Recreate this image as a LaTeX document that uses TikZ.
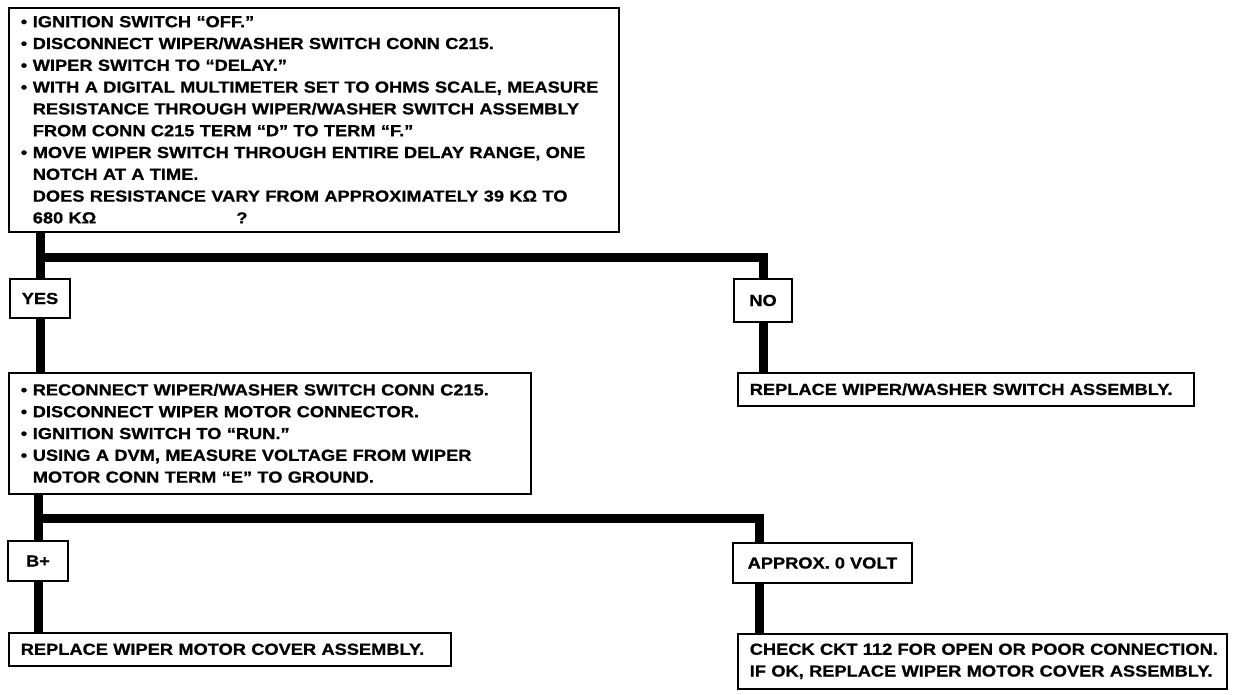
\documentclass[tikz,border=0pt]{standalone}
\usepackage{fontspec}
\setmainfont{Liberation Sans}[FakeStretch=1.14, BoldFeatures={FakeBold=0.8}]
\usetikzlibrary{positioning}
\newcommand{\chartfont}{\bfseries\fontsize{16}{21.8}\selectfont}
\newcommand{\bul}{\makebox[12pt][l]{\textbullet}}
\newcommand{\ind}{\hspace*{12pt}}
\tikzstyle{stepbox}=[draw,line width=1.6pt,fill=white,anchor=north west,inner xsep=12pt,inner ysep=0pt,align=left,font=\chartfont]
\tikzstyle{answer}=[draw,line width=1.6pt,fill=white,inner sep=0pt,font=\chartfont]
\tikzstyle{flow}=[draw,line width=9pt]

\begin{document}
\begin{tikzpicture}[x=1pt,y=-1pt]
    \useasboundingbox (0,0) rectangle (1248,694);
    % First the test and action boxes
    \node[stepbox, text width=586pt, minimum height=224pt] (test1) at (8,7)
        {\bul IGNITION SWITCH “OFF.”\\
         \bul DISCONNECT WIPER/WASHER SWITCH CONN C215.\\
         \bul WIPER SWITCH TO “DELAY.”\\
         \bul WITH A DIGITAL MULTIMETER SET TO OHMS SCALE, MEASURE\\
         \ind RESISTANCE THROUGH WIPER/WASHER SWITCH ASSEMBLY\\
         \ind FROM CONN C215 TERM “D” TO TERM “F.”\\
         \bul MOVE WIPER SWITCH THROUGH ENTIRE DELAY RANGE, ONE\\
         \ind NOTCH AT A TIME.\\
         \ind DOES RESISTANCE VARY FROM APPROXIMATELY 39 KΩ TO\\
         \ind 680 KΩ\hspace*{140pt}?};
    \node[stepbox, text width=498pt, minimum height=121pt] (test2) at (8,372)
        {\bul RECONNECT WIPER/WASHER SWITCH CONN C215.\\
         \bul DISCONNECT WIPER MOTOR CONNECTOR.\\
         \bul IGNITION SWITCH TO “RUN.”\\
         \bul USING A DVM, MEASURE VOLTAGE FROM WIPER\\
         \ind MOTOR CONN TERM “E” TO GROUND.};
    \node[stepbox, text width=432pt, minimum height=33pt] (fixswitch) at (737,372)
        {REPLACE WIPER/WASHER SWITCH ASSEMBLY.};
    \node[stepbox, text width=418pt, minimum height=33pt] (fixcover) at (8,632)
        {REPLACE WIPER MOTOR COVER ASSEMBLY.};
    \node[stepbox, text width=465pt, minimum height=55pt] (fixckt) at (737,633)
        {\mbox{CHECK CKT 112 FOR OPEN OR POOR CONNECTION.}\\
         \mbox{IF OK, REPLACE WIPER MOTOR COVER ASSEMBLY.}};

    % Then the answer boxes
    \foreach \pos/\name/\txt/\bw/\bh in {(40,298.5)/yes/YES/60/39, (763,300.5)/no/NO/58/43,
        (38,561)/bplus/B+/60/40, (822.5,563)/approx/APPROX. 0 VOLT/179/40}
        \node[answer, minimum width=\bw pt, minimum height=\bh pt] (\name) at \pos {\txt};

    % Connect the boxes
    \coordinate (fork1) at (40,257);
    \coordinate (fork2) at (38,518);
    \draw[flow] (test1.south -| yes) -- (yes);
    \draw[flow] (fork1) -| (no);
    \draw[flow] (yes) -- (yes |- test2.north);
    \draw[flow] (no) -- (no |- fixswitch.north);
    \draw[flow] (test2.south -| bplus) -- (bplus);
    \draw[flow] (fork2) -| ([xshift=27pt]approx.north west);
    \draw[flow] (bplus) -- (bplus |- fixcover.north);
    \draw[flow] ([xshift=27pt]approx.south west) -- ([xshift=27pt]approx.south west |- fixckt.north);
\end{tikzpicture}
\end{document}
